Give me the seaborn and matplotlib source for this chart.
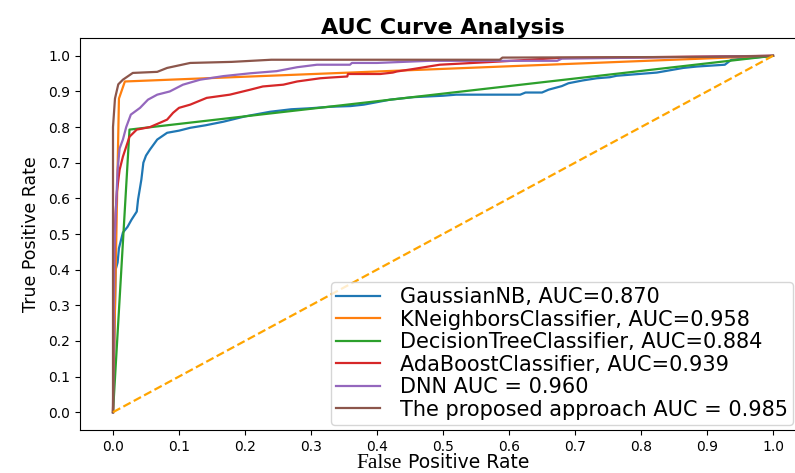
import numpy as np
import pandas as pd
import matplotlib
matplotlib.use("Agg")
import matplotlib.pyplot as plt
from matplotlib.offsetbox import TextArea, HPacker, AnchoredOffsetbox
import seaborn as sns

# --- データ（図から読み取ったROC曲線の点） ---
labels = [
    "GaussianNB, AUC=0.870",
    "KNeighborsClassifier, AUC=0.958",
    "DecisionTreeClassifier, AUC=0.884",
    "AdaBoostClassifier, AUC=0.939",
    "DNN AUC = 0.960",
    "The proposed approach AUC = 0.985",
]

nb_fpr = [0, 0.004, 0.007, 0.009, 0.015, 0.022, 0.028, 0.036, 0.038, 0.043, 0.046, 0.05,
          0.056, 0.067, 0.082, 0.1, 0.117, 0.14, 0.167, 0.2, 0.238, 0.27, 0.3, 0.329,
          0.36, 0.38, 0.42, 0.455, 0.5, 0.52, 0.617, 0.625, 0.65, 0.66, 0.68, 0.69,
          0.712, 0.733, 0.753, 0.763, 0.824, 0.864, 0.885, 0.927, 0.937, 1.0]
nb_tpr = [0, 0.40, 0.42, 0.46, 0.504, 0.52, 0.54, 0.563, 0.597, 0.653, 0.70, 0.72,
          0.737, 0.765, 0.784, 0.79, 0.798, 0.805, 0.815, 0.83, 0.843, 0.85, 0.853, 0.857,
          0.859, 0.863, 0.877, 0.884, 0.888, 0.891, 0.891, 0.897, 0.897, 0.905, 0.915, 0.923,
          0.931, 0.937, 0.94, 0.944, 0.953, 0.966, 0.970, 0.975, 0.989, 1.0]

knn_fpr = [0, 0.009, 0.018, 1.0]
knn_tpr = [0, 0.88, 0.928, 1.0]

dt_fpr = [0, 0.025, 1.0]
dt_tpr = [0, 0.793, 1.0]

ada_fpr = [0, 0.002, 0.004, 0.006, 0.01, 0.015, 0.02, 0.025, 0.036, 0.056, 0.071, 0.082,
           0.091, 0.1, 0.117, 0.142, 0.177, 0.208, 0.227, 0.258, 0.279, 0.314, 0.329, 0.355,
           0.356, 0.405, 0.424, 0.43, 0.455, 0.495, 0.545, 0.586, 0.632, 0.673, 0.8, 1.0]
ada_tpr = [0, 0.45, 0.56, 0.62, 0.68, 0.717, 0.745, 0.773, 0.793, 0.80, 0.812, 0.821,
           0.84, 0.854, 0.863, 0.882, 0.891, 0.905, 0.914, 0.919, 0.928, 0.937, 0.939, 0.942,
           0.949, 0.949, 0.953, 0.956, 0.963, 0.975, 0.98, 0.984, 0.989, 0.994, 0.996, 1.0]

dnn_fpr = [0, 0.002, 0.004, 0.007, 0.01, 0.015, 0.02, 0.027, 0.041, 0.053, 0.067, 0.086,
           0.106, 0.132, 0.167, 0.208, 0.248, 0.279, 0.309, 0.359, 0.362, 0.40, 0.48, 0.673,
           0.68, 1.0]
dnn_tpr = [0, 0.45, 0.55, 0.68, 0.74, 0.765, 0.80, 0.835, 0.854, 0.877, 0.891, 0.90,
           0.919, 0.933, 0.943, 0.951, 0.957, 0.968, 0.975, 0.975, 0.98, 0.98, 0.986, 0.986,
           0.992, 1.0]

prop_fpr = [0, 0.0, 0.003, 0.008, 0.015, 0.03, 0.067, 0.082, 0.117, 0.18, 0.24, 0.586,
            0.59, 0.9, 1.0]
prop_tpr = [0, 0.80, 0.88, 0.92, 0.933, 0.952, 0.955, 0.966, 0.98, 0.983, 0.989, 0.989,
            0.995, 0.997, 1.0]

curves = [(nb_fpr, nb_tpr), (knn_fpr, knn_tpr), (dt_fpr, dt_tpr),
          (ada_fpr, ada_tpr), (dnn_fpr, dnn_tpr), (prop_fpr, prop_tpr)]

# --- 描画 ---
fig = plt.figure(figsize=(7.95, 4.73), dpi=100)
ax = fig.add_axes([80 / 795, 43 / 473, 726 / 795, 392 / 473])

colors = sns.color_palette("tab10", 6)
for (fpr, tpr), lab, c in zip(curves, labels, colors):
    sns.lineplot(x=fpr, y=tpr, ax=ax, color=c, label=lab, linewidth=1.6,
                 estimator=None, sort=False)

# ランダム分類器の対角線
sns.lineplot(x=[0, 1], y=[0, 1], ax=ax, color="orange", linestyle="--",
             linewidth=1.6, estimator=None, sort=False)

ax.set_xlim(-0.05, 1.05)
ax.set_ylim(-0.05, 1.05)
ax.set_xticks(np.arange(0, 1.01, 0.1))
ax.set_yticks(np.arange(0, 1.01, 0.1))
ax.tick_params(labelsize=10)
ax.set_title("AUC Curve Analysis", fontweight="bold", fontsize=16, pad=3)
ax.set_ylabel("True Positive Rate", fontsize=12.5, labelpad=6)
ax.set_xlabel("")

# x軸ラベル: "False" だけセリフ体
t1 = TextArea("False", textprops=dict(family="Liberation Serif", size=15.5))
t2 = TextArea("Positive Rate", textprops=dict(family="DejaVu Sans", size=13.5))
box = HPacker(children=[t1, t2], align="baseline", pad=0, sep=5)
anch = AnchoredOffsetbox(loc="lower center", child=box, frameon=False, pad=0,
                         borderpad=0, bbox_to_anchor=(443 / 795, 0.0),
                         bbox_transform=fig.transFigure)
fig.add_artist(anch)

handles, labs = ax.get_legend_handles_labels()
ax.legend(handles[:6], labs[:6], loc="lower right", fontsize=15,
          bbox_to_anchor=(793 / 795, 48 / 473), bbox_transform=fig.transFigure,
          borderaxespad=0, labelspacing=0.12, borderpad=0.25,
          handlelength=2.1, handletextpad=0.95)

fig.savefig("out.png", dpi=100)
